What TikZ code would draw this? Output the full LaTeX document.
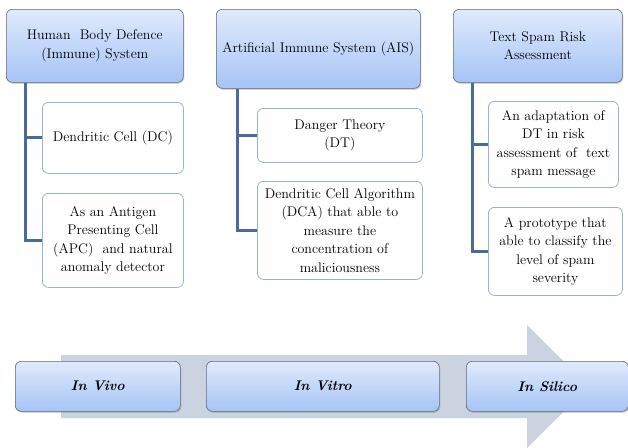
\documentclass[tikz,border=0pt]{standalone}
\usepackage{fontspec}
\usetikzlibrary{shadows}
\definecolor{headtop}{HTML}{E0EAFC}
\definecolor{headbot}{HTML}{A6C4F6}
\definecolor{headborder}{HTML}{5F6877}
\definecolor{childborder}{HTML}{95B3D7}
\definecolor{connblue}{HTML}{4A6C9B}
\definecolor{arrowfill}{HTML}{CBD3E0}
\tikzset{
  box/.style={rounded corners=6pt, align=center, inner sep=2pt, anchor=north west,
    font=\fontsize{14}{18.5}\selectfont},
  head/.style={box, draw=headborder, line width=0.6pt, top color=headtop, bottom color=headbot,
    drop shadow={shadow xshift=1pt, shadow yshift=-1.5pt, opacity=0.35}},
  child/.style={box, draw=childborder, fill=white, line width=0.8pt},
  stage/.style={head, font=\fontsize{14}{18}\selectfont\bfseries\itshape},
  conn/.style={draw=connblue, line width=3pt},
}
\begin{document}
\begin{tikzpicture}[x=1pt,y=-1pt]
\useasboundingbox (0,0) rectangle (628,447);
\clip (0,0) rectangle (628,447);

% column 1
\node[head, minimum width=177pt, minimum height=73pt] (h1) at (6,9) {Human\ \ Body Defence\\(Immune) System};
\node[child, minimum width=141pt, minimum height=71pt] (c1a) at (42,102) {Dendritic Cell (DC)};
\node[child, minimum width=141pt, minimum height=94pt] (c1b) at (42,193) {As an Antigen\\Presenting Cell\\(APC)\ \ and natural\\anomaly detector};
\draw[conn] ([xshift=19pt]h1.south west) |- (c1a.west);
\draw[conn] ([xshift=19pt]h1.south west) |- (c1b.west);

% column 2
\node[head, minimum width=204pt, minimum height=79pt] (h2) at (216,9) {Artificial Immune System (AIS)};
\node[child, minimum width=165pt, minimum height=54pt] (c2a) at (257,108) {Danger Theory\\(DT)};
\node[child, minimum width=165pt, minimum height=98pt] (c2b) at (257,181) {Dendritic Cell Algorithm\\(DCA) that able to\\measure the\\concentration of\\maliciousness};
\draw[conn] ([xshift=21pt]h2.south west) |- (c2a.west);
\draw[conn] ([xshift=21pt]h2.south west) |- (c2b.west);

% column 3
\node[head, minimum width=169pt, minimum height=73pt] (h3) at (453,9) {Text Spam Risk\\Assessment};
\node[child, minimum width=130pt, minimum height=86pt] (c3a) at (488,101) {An adaptation of\\DT in risk\\assessment of\ \ text\\spam message};
\node[child, minimum width=134pt, minimum height=88pt] (c3b) at (488,207) {A prototype that\\able to classify the\\level of spam\\severity};
\draw[conn] ([xshift=19pt]h3.south west) |- (c3a.west);
\draw[conn] ([xshift=19pt]h3.south west) |- (c3b.west);

% big arrow
\fill[arrowfill] (61,355) -- (527,355) -- (527,325) -- (589,386.5) -- (527,448) -- (527,418) -- (61,418) -- cycle;

\node[stage, minimum width=165pt, minimum height=50pt] (s1) at (15,361) {In Vivo};
\node[stage, minimum width=233pt, minimum height=50pt] (s2) at (206,361) {In Vitro};
\node[stage, minimum width=162pt, minimum height=50pt] (s3) at (466,361) {In Silico};
\end{tikzpicture}
\end{document}
